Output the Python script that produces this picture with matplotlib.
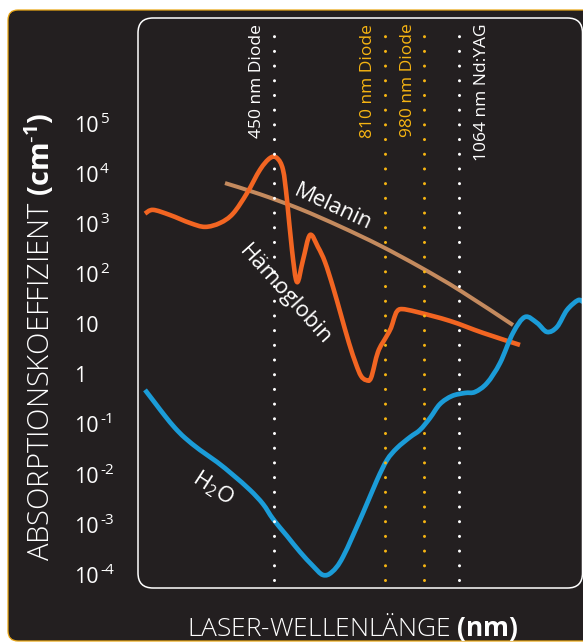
import matplotlib

matplotlib.use("Agg")

import matplotlib.pyplot as plt
import matplotlib.transforms as mtransforms
import numpy as np
from matplotlib.patches import FancyBboxPatch, PathPatch
from matplotlib.path import Path

plt.rcParams["font.family"] = ["Open Sans", "DejaVu Sans"]
plt.rcParams["mathtext.fontset"] = "custom"
plt.rcParams["mathtext.rm"] = "Open Sans"
plt.rcParams["mathtext.it"] = "Open Sans:italic"
plt.rcParams["mathtext.bf"] = "Open Sans:bold"

BG = "#231f20"
GOLD = "#e9a614"
DOT_GOLD = "#f7b512"
ORANGE = "#f26522"
TAN = "#c48a5e"
BLUE = "#1b9cd8"

# x is a schematic position along the plot (the original has no wavelength ticks)
laser_names = ["450 nm Diode", "810 nm Diode", "980 nm Diode", "1064 nm Nd:YAG"]
laser_pos = [136, 247, 286, 321]
laser_label_pos = [119, 230, 270, 344]
laser_colors = ["white", DOT_GOLD, DOT_GOLD, "white"]

# absorption coefficients in cm^-1
hb_x = [7, 15, 32, 52, 67, 82, 95, 109, 122, 132, 139, 145, 149, 154, 159, 165, 172,
        180, 187, 195, 203, 211, 218, 223, 228, 233, 240, 248, 253, 256, 259, 264,
        279, 312, 345, 382]
hb_y = [1.6e3, 1.9e3, 1.5e3, 1.04e3, 870, 1.04e3, 1.6e3, 4.1e3, 1.2e4, 2.05e4, 2.05e4,
        1.2e4, 3.0e3, 300, 69, 190, 600, 345, 173, 55, 15.2, 4.2, 1.6, 0.93, 0.77,
        0.85, 2.8, 5.5, 8.4, 13, 18, 20, 17.5, 11.6, 6.7, 3.85]

mel_x = [87, 122, 162, 202, 242, 282, 322, 375]
mel_y = [6.5e3, 3.9e3, 1.98e3, 890, 370, 138, 47, 9.6]

h2o_x = [7, 17, 27, 37, 47, 62, 79, 95, 112, 125, 135, 149, 162, 175, 185, 194, 205,
         225, 239, 249, 259, 272, 282, 292, 302, 314, 327, 337, 349, 362, 375, 387,
         399, 409, 419, 429, 440, 445]
h2o_y = [0.49, 0.269, 0.148, 0.0853, 0.054, 0.031, 0.0179, 0.00986, 0.00495, 0.0026,
         0.00131, 6.0e-4, 2.88e-4, 1.51e-4, 1.0e-4, 1.15e-4, 2.3e-4, 1.73e-3, 7.8e-3,
         0.0196, 0.034, 0.056, 0.078, 0.135, 0.256, 0.37, 0.425, 0.445, 0.67, 1.68,
         6.7, 13.9, 10.6, 7.0, 8.8, 19.2, 30, 27.7]

ytick_values = [1e-4, 1e-3, 1e-2, 1e-1, 1, 10, 1e2, 1e3, 1e4, 1e5]
ytick_base = ["10", "10", "10", "10", "1", "10", "10", "10", "10", "10"]
ytick_sup = ["-4", "-3", "-2", "-1", "", "", "2", "3", "4", "5"]


def smooth_path(xs, ys):
    # Catmull-Rom through the read points, in (x, log10 y) space
    pts = np.column_stack([xs, np.log10(ys)])
    n = len(pts)
    verts = [pts[0]]
    codes = [Path.MOVETO]
    for i in range(n - 1):
        p0 = pts[max(i - 1, 0)]
        p1 = pts[i]
        p2 = pts[i + 1]
        p3 = pts[min(i + 2, n - 1)]
        verts += [p1 + (p2 - p0) / 6, p2 - (p3 - p1) / 6, p2]
        codes += [Path.CURVE4] * 3
    verts = np.array(verts)
    verts[:, 1] = 10 ** verts[:, 1]
    return Path(verts, codes)


fig = plt.figure(figsize=(5.83, 6.43), dpi=100, facecolor="white")
inch = fig.dpi_scale_trans

# dark card with gold edge, running off the right side
fig.add_artist(FancyBboxPatch((0.08, 0.02), 7.0, 6.31,
                              boxstyle="round,pad=0,rounding_size=0.10",
                              transform=inch, facecolor=BG, edgecolor=GOLD,
                              linewidth=0.9, zorder=0))

ax = fig.add_axes([1.38 / 5.83, 0.55 / 6.43, 4.45 / 5.83, 5.70 / 6.43])
ax.set_yscale("log")
ax.set_xlim(0, 445)
ax.set_ylim(5.5e-5, 1.27e7)
ax.set_axis_off()

fig.add_artist(FancyBboxPatch((1.38, 0.55), 4.445, 5.70,
                              boxstyle="round,pad=0,rounding_size=0.15",
                              transform=inch, facecolor="none", edgecolor="white",
                              linewidth=1.1, zorder=1))

for xs, ys, col, lw, z in [(mel_x, mel_y, TAN, 2.9, 2),
                           (hb_x, hb_y, ORANGE, 3.3, 3),
                           (h2o_x, h2o_y, BLUE, 3.4, 4)]:
    ax.add_patch(PathPatch(smooth_path(xs, ys), facecolor="none", edgecolor=col,
                           lw=lw, capstyle="butt", joinstyle="round", zorder=z))

for pos, lpos, name, col in zip(laser_pos, laser_label_pos, laser_names, laser_colors):
    ax.axvline(pos, ymin=0.014, ymax=0.988, color=col, lw=2.2,
               linestyle=(0, (0.01, 4.8)), dash_capstyle="round", zorder=5)
    ax.text(lpos, 0.99, name, transform=ax.get_xaxis_transform(), rotation=90,
            ha="center", va="top", color=col, fontsize=12.5)

base_trans = mtransforms.offset_copy(ax.get_yaxis_transform(), fig=fig, y=-8, units="dots")
sup_trans = mtransforms.offset_copy(ax.get_yaxis_transform(), fig=fig, x=26, y=1, units="dots")
for val, base, sup in zip(ytick_values, ytick_base, ytick_sup):
    ax.text(-0.144, val, base, transform=base_trans, ha="left", va="baseline",
            color="white", fontsize=15.5, clip_on=False)
    if sup:
        ax.text(-0.144, val, sup, transform=sup_trans, ha="left", va="baseline",
                color="white", fontsize=11, clip_on=False)

ax.text(195, 2.07e3, "Melanin", rotation=-25, rotation_mode="anchor",
        ha="center", va="center", color="white", fontsize=16, zorder=6)
ax.text(147, 38, "Hämoglobin", rotation=-48, rotation_mode="anchor",
        ha="center", va="center", color="white", fontsize=16, zorder=6)
ax.text(75, 5.4e-3, r"H$_\mathdefault{2}$O", rotation=-33, rotation_mode="anchor",
        ha="center", va="center", color="white", fontsize=16, zorder=6)

fig.text(3.53, 0.07, r"LASER-WELLENLÄNGE $\mathbf{(nm)}$", transform=inch,
         ha="center", va="baseline", color="white", fontsize=19, fontweight="light")
fig.text(0.50, 3.06, r"ABSORPTIONSKOEFFIZIENT $\mathbf{(cm^{\text{-}1})}$",
         transform=inch, rotation=90, rotation_mode="anchor", ha="center",
         va="baseline", color="white", fontsize=21, fontweight="light")

fig.savefig("out.png", dpi=100, facecolor=fig.get_facecolor())
plt.close(fig)
